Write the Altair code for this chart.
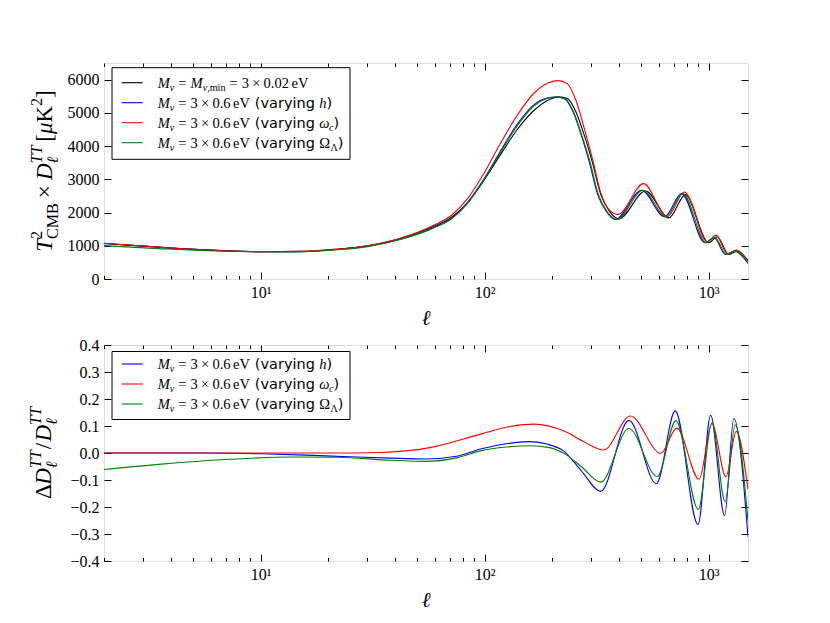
import altair as alt
import pandas as pd

# ------------------------------------------------------------------ data
# top panel: T_CMB^2 x D_ell^TT  [muK^2]
ELL_BASE = [2, 3, 4, 6, 10, 15, 22, 30, 42, 59, 71, 84, 99, 118, 140, 166, 197, 215, 234, 255,
            278, 302, 330, 360, 398, 523, 665, 789, 1000, 1093, 1232, 1343, 1500]
DTT_BASE = [1070, 990, 930, 870, 820, 830, 895, 1000, 1220, 1580, 1850, 2300, 2950, 3750, 4500, 5070, 5420, 5480, 5430, 5050,
            4350, 3550, 2550, 2050, 1810, 2650, 1840, 2540, 1090, 1270, 740, 840, 550]

ELL_H = [2, 3, 4, 6, 10, 15, 22, 30, 42, 59, 71, 84, 99, 118, 140, 166, 188, 208, 228, 248,
         270, 293, 320, 349, 384, 502, 636, 758, 963, 1056, 1191, 1306, 1500]
DTT_H = [1070, 990, 930, 870, 818, 825, 888, 990, 1196, 1545, 1822, 2300, 2990, 3860, 4660, 5240, 5440, 5475, 5420, 5040,
         4340, 3540, 2540, 2040, 1790, 2670, 1870, 2570, 1090, 1250, 740, 840, 470]

ELL_WC = [2, 3, 4, 6, 10, 15, 22, 30, 42, 59, 71, 84, 99, 118, 140, 166, 192, 213, 234, 255,
          278, 302, 330, 360, 395, 512, 655, 780, 988, 1080, 1215, 1330, 1500]
DTT_WC = [1075, 993, 932, 871, 821, 831, 898, 1003, 1228, 1612, 1910, 2420, 3160, 4090, 4930, 5590, 5900, 5970, 5880, 5400,
          4560, 3660, 2600, 2080, 1940, 2870, 1870, 2620, 1120, 1320, 760, 870, 520]

ELL_OL = [2, 3.5, 7, 14, 22, 30, 42, 59, 71, 84, 99, 118, 140, 166, 190, 209, 229, 249, 271, 295,
          322, 351, 391, 509, 645, 768, 975, 1065, 1200, 1315, 1500]
DTT_OL = [1005, 915, 834, 816, 881, 975, 1187, 1531, 1804, 2277, 2974, 3818, 4613, 5207, 5430, 5475, 5425, 5045, 4345, 3545,
          2545, 2045, 1795, 2670, 1870, 2570, 1095, 1260, 740, 840, 480]

# bottom panel: Delta D_ell^TT / D_ell^TT
ELL_RH = [2, 6, 10, 16, 25, 38, 55, 75, 96, 125, 157, 190, 225, 270, 330, 441, 585, 710, 897, 1022, 1179, 1297, 1500]
RAT_H = [0.0, 0.0, -0.003, -0.008, -0.014, -0.019, -0.022, -0.012, 0.015, 0.034, 0.042, 0.033, 0.008, -0.065,
         -0.142, 0.121, -0.114, 0.156, -0.265, 0.14, -0.232, 0.128, -0.31]

ELL_RWC = [2, 10, 20, 34, 57, 96, 130, 166, 225, 280, 340, 448, 612, 722, 907, 1036, 1195, 1330, 1500]
RAT_WC = [0.0, 0.0, 0.0, 0.002, 0.02, 0.07, 0.098, 0.107, 0.082, 0.04, 0.011, 0.137, -0.001, 0.092, -0.097,
          0.109, -0.088, 0.08, -0.135]

ELL_ROL = [2, 3.5, 7, 14, 22, 38, 55, 75, 96, 125, 160, 195, 230, 270, 330, 441, 590, 715, 900, 1036, 1185, 1315, 1500]
RAT_OL = [-0.061, -0.042, -0.024, -0.015, -0.016, -0.027, -0.031, -0.018, 0.008, 0.022, 0.027, 0.02, -0.005, -0.05,
          -0.108, 0.091, -0.087, 0.12, -0.209, 0.112, -0.18, 0.104, -0.25]

# axes
X_DOMAIN = [2, 1500]
X_MAJOR = [10, 100, 1000]
X_MINOR = [2, 3, 4, 5, 6, 7, 8, 9, 20, 30, 40, 50, 60, 70, 80, 90, 200, 300, 400, 500, 600, 700, 800, 900]
Y_TOP_DOMAIN = [0, 6500]
Y_TOP_TICKS = [0, 1000, 2000, 3000, 4000, 5000, 6000]
Y_BOT_DOMAIN = [-0.4, 0.4]
Y_BOT_TICKS = [-0.4, -0.3, -0.2, -0.1, 0.0, 0.1, 0.2, 0.3, 0.4]

# ------------------------------------------------------------------ style
SERIF = "Liberation Serif"
SANS = "DejaVu Sans"
BLACK, BLUE, RED, GREEN = "#000000", "#0000ff", "#ff0000", "#008000"
W, H = 644, 216
LW = 1.1
ONE = pd.DataFrame({"k": [0]})

xscale = alt.Scale(type="log", domain=X_DOMAIN, nice=False)
ys_top = alt.Scale(domain=Y_TOP_DOMAIN, nice=False, zero=False)
ys_bot = alt.Scale(domain=Y_BOT_DOMAIN, nice=False, zero=False)

LOG_LABELS = "datum.value == 10 ? '10\u00b9' : (datum.value == 100 ? '10\u00b2' : '10\u00b3')"


def ax_x(orient, values, size, labels):
    d = dict(orient=orient, values=values, tickSize=size, offset=-size, domain=False, grid=False,
             ticks=True, tickColor="black", tickWidth=1, labels=labels, title=None)
    if labels:
        d.update(labelExpr=LOG_LABELS, labelFont=SERIF, labelFontSize=16, labelColor="black",
                 labelPadding=5, labelFlush=False, labelOverlap=False)
    return alt.Axis(**d)


def ax_y(orient, values, labels, expr):
    d = dict(orient=orient, values=values, tickSize=7, offset=-7, domain=False, grid=False,
             ticks=True, tickColor="black", tickWidth=1, labels=labels, title=None)
    if labels:
        d.update(labelExpr=expr, labelFont=SERIF, labelFontSize=16, labelColor="black",
                 labelPadding=5, labelFlush=False, labelOverlap=False)
    return alt.Axis(**d)


def line(ell, val, color, ys, xaxis=None, yaxis=None, opacity=1.0):
    df = pd.DataFrame({"ell": ell, "v": val})
    return alt.Chart(df).mark_line(color=color, strokeWidth=LW, interpolate="monotone", clip=True,
                                   strokeOpacity=opacity).encode(
        x=alt.X("ell:Q", scale=xscale, axis=xaxis),
        y=alt.Y("v:Q", scale=ys, axis=yaxis),
    )


# ------------------------------------------------------------------ rich text helpers
WID = {
    ("serif", "normal"): {" ": 250, ".": 250, ",": 250, "=": 564, "\u00d7": 564, "[": 333, "]": 333,
                          "(": 333, ")": 333, "/": 278, "e": 444, "V": 722, "m": 778, "i": 278, "n": 500,
                          "C": 667, "M": 889, "B": 667, "K": 722, "\u0394": 612, "\u03a9": 768,
                          "\u039b": 722, "\u03bc": 500},
    ("serif", "italic"): {"M": 833, "T": 556, "D": 722, "h": 500, "\u03bd": 444, "\u03c9": 667,
                          "c": 444, "\u03bc": 500, "\u2113": 417},
    ("sans", "normal"): {" ": 318, "(": 390, ")": 390, "v": 592, "a": 613, "r": 411, "y": 592,
                         "i": 278, "n": 634, "g": 635},
}
FAM = {"serif": SERIF, "sans": SANS}


def tw(t, fam, style, size):
    tab = WID[(fam, style)]
    return sum(tab.get(c, 500) for c in t) / 1000.0 * size


def P(t, fam="serif", style="normal", size=1.0, shift=0.0):
    return dict(t=t, fam=fam, style=style, size=size, shift=shift)


def G(em):
    return dict(gap=em)


def S(*ps):
    return dict(stack=list(ps))


def place(items, base):
    pos, out = 0.0, []
    for it in items:
        if "gap" in it:
            pos += it["gap"] * base
            continue
        group = it["stack"] if "stack" in it else [it]
        adv = 0.0
        for p in group:
            sz = p["size"] * base
            out.append((p["t"], FAM[p["fam"]], p["style"], sz, pos, p["shift"] * base))
            adv = max(adv, tw(p["t"], p["fam"], p["style"], sz))
        pos += adv
    return out, pos


def hrow(items, base, x0, y0):
    out, _ = place(items, base)
    layers = []
    for t, f, st, sz, pos, sh in out:
        layers.append(alt.Chart(ONE).mark_text(text=t, font=f, fontStyle=st, fontSize=sz, align="left",
                                               baseline="alphabetic", color="black").encode(
            x=alt.value(x0 + pos), y=alt.value(y0 + sh)))
    return layers


def vtitle(items, base, xa, ya):
    out, L = place(items, base)
    layers = []
    for t, f, st, sz, pos, sh in out:
        layers.append(alt.Chart(ONE).mark_text(text=t, font=f, fontStyle=st, fontSize=sz, align="left",
                                               baseline="alphabetic", angle=270, dx=pos - L / 2, dy=sh,
                                               color="black").encode(
            x=alt.value(xa), y=alt.value(ya)))
    return layers


SUP, SUB = -0.42, 0.24
TITLE_TOP = [P("T", style="italic"), S(P("2", size=.7, shift=SUP), P("CMB", size=.7, shift=SUB)),
             G(.22), P("\u00d7"), G(.22), P("D", style="italic"),
             S(P("TT", style="italic", size=.7, shift=SUP), P("\u2113", style="italic", size=.7, shift=SUB)),
             G(.17), P("["), P("\u03bc", style="italic"), P("K"), P("2", size=.7, shift=SUP), P("]")]
TITLE_BOT = [P("\u0394"), P("D", style="italic"),
             S(P("TT", style="italic", size=.7, shift=SUP), P("\u2113", style="italic", size=.7, shift=SUB)),
             G(.05), P("/"), G(.05), P("D", style="italic"),
             S(P("TT", style="italic", size=.7, shift=SUP), P("\u2113", style="italic", size=.7, shift=SUB))]

LSUB = 0.22
MNU = [P("M", style="italic"), P("\u03bd", style="italic", size=.7, shift=LSUB)]
ROW_MIN = MNU + [G(.28), P("="), G(.28), P("M", style="italic"), P("\u03bd", style="italic", size=.7, shift=LSUB),
                 P(",min", size=.7, shift=LSUB), G(.28), P("="), G(.28), P("3"), G(.22), P("\u00d7"), G(.22),
                 P("0.02"), G(.17), P("eV")]
ROW_V = MNU + [G(.28), P("="), G(.28), P("3"), G(.22), P("\u00d7"), G(.22), P("0.6"), G(.17), P("eV"),
               G(.34), P("(varying", fam="sans"), G(.3)]
ROW_H = ROW_V + [P("h", style="italic"), P(")", fam="sans")]
ROW_WC = ROW_V + [P("\u03c9", style="italic"), P("c", style="italic", size=.7, shift=LSUB), P(")", fam="sans")]
ROW_OL = ROW_V + [P("\u03a9"), P("\u039b", size=.7, shift=LSUB), P(")", fam="sans")]

LFS = 14.5


def legend(rows, box_y0, box_y1, row_y0):
    layers = [alt.Chart(ONE).mark_rect(fill="white", stroke="black", strokeWidth=1).encode(
        x=alt.value(8), x2=alt.value(246), y=alt.value(box_y0), y2=alt.value(box_y1))]
    for i, (items, color) in enumerate(rows):
        ry = row_y0 + 20 * i
        layers.append(alt.Chart(ONE).mark_rule(color=color, strokeWidth=LW).encode(
            x=alt.value(17.7), x2=alt.value(38.7), y=alt.value(ry)))
        layers += hrow(items, LFS, 53.7, ry + 4.8)
    return layers


def ell_title():
    return alt.Chart(ONE).mark_text(text="\u2113", font="DejaVu Serif", fontStyle="italic", fontSize=21,
                                    align="center", baseline="alphabetic", color="black").encode(
        x=alt.value(W / 2), y=alt.value(H + 46))


def frame_axes(ell, val, ys):
    return [
        line(ell, val, BLACK, ys, xaxis=ax_x("bottom", X_MINOR, 3.5, False),
             yaxis=ax_y("right", Y_TOP_TICKS if ys is ys_top else Y_BOT_TICKS, False, ""), opacity=0),
        line(ell, val, BLACK, ys, xaxis=ax_x("top", X_MAJOR, 7, False), yaxis=None, opacity=0),
        line(ell, val, BLACK, ys, xaxis=ax_x("top", X_MINOR, 3.5, False), yaxis=None, opacity=0),
    ]


# ------------------------------------------------------------------ top panel
top_layers = [
    line(ELL_BASE, DTT_BASE, BLACK, ys_top, xaxis=ax_x("bottom", X_MAJOR, 7, True),
         yaxis=ax_y("left", Y_TOP_TICKS, True, "format(datum.value, 'd')")),
    line(ELL_H, DTT_H, BLUE, ys_top),
    line(ELL_WC, DTT_WC, RED, ys_top),
    line(ELL_OL, DTT_OL, GREEN, ys_top),
]
top_layers += frame_axes(ELL_BASE, DTT_BASE, ys_top)
top_layers += legend([(ROW_MIN, BLACK), (ROW_H, BLUE), (ROW_WC, RED), (ROW_OL, GREEN)], 4.7, 96.3, 19.7)
top_layers += vtitle(TITLE_TOP, 23, -52, H / 2)
top_layers.append(ell_title())
top_layers.append(alt.Chart(ONE).mark_point(size=1, opacity=0, filled=True, strokeWidth=0).encode(
    x=alt.value(-95), y=alt.value(-54)))

top = alt.layer(*top_layers).resolve_axis(x="independent", y="independent").properties(width=W, height=H)

# ------------------------------------------------------------------ bottom panel
bot_layers = [
    line(ELL_RH, RAT_H, BLUE, ys_bot, xaxis=ax_x("bottom", X_MAJOR, 7, True),
         yaxis=ax_y("left", Y_BOT_TICKS, True, "replace(format(datum.value, '.1f'), '-', '\u2212')")),
    line(ELL_RWC, RAT_WC, RED, ys_bot),
    line(ELL_ROL, RAT_OL, GREEN, ys_bot),
]
bot_layers += frame_axes(ELL_RH, RAT_H, ys_bot)
bot_layers += legend([(ROW_H, BLUE), (ROW_WC, RED), (ROW_OL, GREEN)], 6.5, 74.5, 19.0)
bot_layers += vtitle(TITLE_BOT, 23, -53, H / 2)
bot_layers.append(ell_title())

bottom = alt.layer(*bot_layers).resolve_axis(x="independent", y="independent").properties(width=W, height=H)

chart = alt.vconcat(top, bottom, spacing=66, bounds="flush").properties(padding=0).configure_view(
    stroke="black", strokeWidth=1.2).configure(background="white")

chart.save("out.html", embed_options={"renderer": "svg", "actions": False})
